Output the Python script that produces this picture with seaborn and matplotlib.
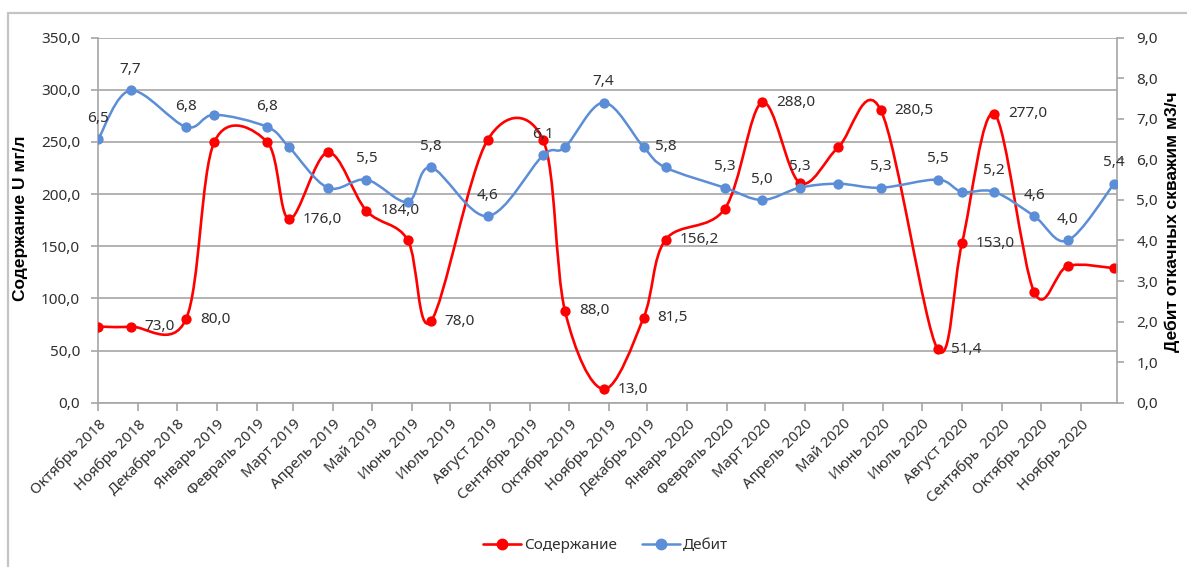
import pandas as pd
import numpy as np
import matplotlib
matplotlib.use("Agg")
import matplotlib.pyplot as plt
import matplotlib.dates as mdates
from matplotlib.path import Path
from matplotlib.patches import PathPatch
from matplotlib.lines import Line2D
from matplotlib.ticker import FuncFormatter, MultipleLocator
import seaborn as sns

# ---------------- data ----------------
sample_dates = ["2018-10-01", "2018-10-26", "2018-12-08", "2018-12-30", "2019-02-09",
                "2019-02-26", "2019-03-28", "2019-04-27", "2019-05-29", "2019-06-16",
                "2019-07-30", "2019-09-11", "2019-09-28", "2019-10-28", "2019-11-28",
                "2019-12-15", "2020-01-30", "2020-02-28", "2020-03-28", "2020-04-27",
                "2020-05-30", "2020-07-13", "2020-08-01", "2020-08-26", "2020-09-26",
                "2020-10-22", "2020-11-27"]

uranium = [73.0, 73.0, 80.0, 250.0, 250.0, 176.0, 240.0, 184.0, 156.0, 78.0,
           252.0, 252.0, 88.0, 13.0, 81.5, 156.2, 186.0, 288.0, 211.0, 245.0,
           280.5, 51.4, 153.0, 277.0, 106.0, 131.0, 129.0]

debit = [6.5, 7.7, 6.8, 7.1, 6.8, 6.3, 5.3, 5.5, 4.95, 5.8,
         4.6, 6.1, 6.3, 7.4, 6.3, 5.8, 5.3, 5.0, 5.3, 5.4,
         5.3, 5.5, 5.2, 5.2, 4.6, 4.0, 5.4]

# which points carry a data label
uranium_labeled = [0, 1, 1, 0, 0, 1, 0, 1, 0, 1, 0, 0, 1, 1, 1, 1, 0, 1, 0, 0,
                   1, 1, 1, 1, 0, 0, 0]
debit_labeled = [1, 1, 1, 0, 1, 0, 0, 1, 0, 1, 1, 1, 0, 1, 0, 1, 1, 1, 1, 0,
                 1, 1, 0, 1, 1, 1, 1]

month_labels = ["Октябрь 2018", "Ноябрь 2018", "Декабрь 2018", "Январь 2019",
                "Февраль 2019", "Март 2019", "Апрель 2019", "Май 2019", "Июнь 2019",
                "Июль 2019", "Август 2019", "Сентябрь 2019", "Октябрь 2019",
                "Ноябрь 2019", "Декабрь 2019", "Январь 2020", "Февраль 2020",
                "Март 2020", "Апрель 2020", "Май 2020", "Июнь 2020", "Июль 2020",
                "Август 2020", "Сентябрь  2020", "Октябрь 2020", "Ноябрь 2020"]

df = pd.DataFrame({"date": pd.to_datetime(sample_dates),
                   "uranium": uranium, "debit": debit})

RED = "#ff0000"
BLUE = "#5b8ed6"
GRID = "#a6a6a6"
TXT = "#303030"

sns.set_theme(style="white")
plt.rcParams["font.family"] = ["Noto Sans", "DejaVu Sans"]


def fmt1(v, pos=None):
    return f"{v:.1f}".replace(".", ",")


def smooth_path(xs, ys):
    # excel-like smoothed line: cubic bezier through every point
    n = len(xs)
    verts = [(xs[0], ys[0])]
    codes = [Path.MOVETO]
    for i in range(n - 1):
        x0, y0 = (xs[i - 1], ys[i - 1]) if i > 0 else (xs[i], ys[i])
        x1, y1 = xs[i], ys[i]
        x2, y2 = xs[i + 1], ys[i + 1]
        x3, y3 = (xs[i + 2], ys[i + 2]) if i + 2 < n else (x2, y2)
        c1 = (x1 + (x2 - x0) / 6, y1 + (y2 - y0) / 6)
        c2 = (x2 - (x3 - x1) / 6, y2 - (y3 - y1) / 6)
        verts += [c1, c2, (x2, y2)]
        codes += [Path.CURVE4] * 3
    return Path(verts, codes)


fig = plt.figure(figsize=(11.87, 5.67), dpi=100)
ax = fig.add_axes([0.0828, 0.2898, 0.858, 0.6437])
ax2 = ax.twinx()

xnum = mdates.date2num(df["date"])

# ---- Содержание (left axis)
ax.add_patch(PathPatch(smooth_path(xnum, df["uranium"].values), fill=False,
                       edgecolor=RED, lw=1.9, zorder=3))
sns.scatterplot(data=df, x="date", y="uranium", ax=ax, color=RED, s=55,
                edgecolor=RED, linewidth=0, zorder=4, legend=False)
for d, v, lab in zip(df["date"], uranium, uranium_labeled):
    if lab:
        ax.annotate(fmt1(v), (mdates.date2num(d), v), xytext=(10, 0),
                    textcoords="offset points", ha="left", va="center",
                    fontsize=11, color=TXT, zorder=6)

# ---- Дебит (right axis)
ax2.add_patch(PathPatch(smooth_path(xnum, df["debit"].values), fill=False,
                        edgecolor=BLUE, lw=1.8, zorder=3))
sns.scatterplot(data=df, x="date", y="debit", ax=ax2, color=BLUE, s=55,
                edgecolor=BLUE, linewidth=0, zorder=4, legend=False)
for d, v, lab in zip(df["date"], debit, debit_labeled):
    if lab:
        ax2.annotate(fmt1(v), (mdates.date2num(d), v), xytext=(0, 15),
                     textcoords="offset points", ha="center", va="center",
                     fontsize=11, color=TXT, zorder=6)

# ---- axes
ax.set_xlim(pd.Timestamp("2018-10-01"), pd.Timestamp("2020-11-29"))
ax.set_ylim(0, 350)
ax2.set_ylim(0, 9)
ax.yaxis.set_major_locator(MultipleLocator(50))
ax2.yaxis.set_major_locator(MultipleLocator(1))
ax.yaxis.set_major_formatter(FuncFormatter(fmt1))
ax2.yaxis.set_major_formatter(FuncFormatter(fmt1))

ticks = pd.date_range("2018-10-01", "2020-11-01", freq="MS")
ax.set_xticks(ticks)
ax.set_xticklabels(month_labels, rotation=45, ha="right", va="top",
                   rotation_mode="anchor")

ax.grid(axis="y", color=GRID, lw=1.2)
ax.grid(axis="x", visible=False)
ax2.grid(False)
ax.set_xlabel("")
ax.set_ylabel("")
ax2.set_ylabel("")

for a in (ax, ax2):
    for s in a.spines.values():
        s.set_color(GRID)
        s.set_linewidth(1.2)
    a.spines["top"].set_visible(False)
ax.spines["right"].set_visible(False)
ax2.spines["left"].set_visible(False)
ax2.spines["bottom"].set_visible(False)

ax.tick_params(axis="y", which="major", length=5, width=1.2, color=GRID,
               labelsize=11, labelcolor=TXT, pad=8, left=True)
ax.tick_params(axis="x", which="major", length=6, width=1.2, color=GRID,
               labelsize=10.8, labelcolor=TXT, pad=4, bottom=True)
ax2.tick_params(axis="y", which="major", length=5, width=1.2, color=GRID,
                labelsize=11, labelcolor=TXT, pad=9, right=True)

# axis titles
fig.text(21 / 1187, 1 - 218 / 567, "Содержание U мг/л", rotation=90,
         ha="center", va="center", fontsize=12.5, fontweight="bold", color="black",
         family=["Liberation Sans", "DejaVu Sans"])
fig.text(1172 / 1187, 1 - 222 / 567, "Дебит откачных скважим м3/ч", rotation=90,
         ha="center", va="center", fontsize=12.5, fontweight="bold", color="black",
         family=["Liberation Sans", "DejaVu Sans"])

# legend
handles = [Line2D([], [], color=RED, lw=1.9, marker="o", ms=7.5, label="Содержание"),
           Line2D([], [], color=BLUE, lw=1.8, marker="o", ms=7.5, label="Дебит")]
fig.legend(handles=handles, loc="center", bbox_to_anchor=(0.51, 0.038), ncol=2,
           frameon=False, fontsize=11, handlelength=2.5, handletextpad=0.2,
           columnspacing=1.6, labelcolor=TXT)

# outer chart frame (top and left edges visible in the screenshot)
fig.add_artist(Line2D([8 / 1187, 8 / 1187], [0, 1 - 13 / 567],
                      transform=fig.transFigure, color="#c4c4c4", lw=1.6))
fig.add_artist(Line2D([8 / 1187, 1], [1 - 13 / 567, 1 - 13 / 567],
                      transform=fig.transFigure, color="#c4c4c4", lw=1.6))

fig.savefig("out.png", dpi=100, facecolor="white")
